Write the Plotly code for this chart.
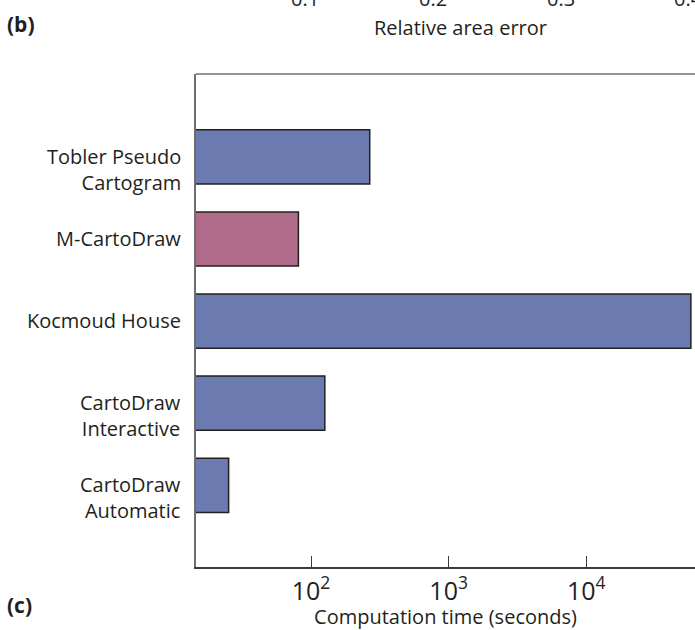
import plotly.graph_objects as go

# Computation time per cartogram method (seconds), top to bottom
methods = [
    "Tobler Pseudo<br>Cartogram",
    "M-CartoDraw",
    "Kocmoud House",
    "CartoDraw<br>Interactive",
    "CartoDraw<br>Automatic",
]
times = [267, 81, 57500, 126, 25.2]
bar_colors = ["#6b7baf", "#b06a8a", "#6b7baf", "#6b7baf", "#6b7baf"]

# Tail of the neighbouring panel's horizontal axis (relative area error)
rel_err_ticks = [0.1, 0.2, 0.3, 0.4]
rel_err_labels = ["0.1", "0.2", "0.3", "0.4"]

FONT = "Open Sans, DejaVu Sans, sans-serif"
TXT = "#231f20"
FS = 20
LINE_H = 1.3 * FS

W, H = 695, 630
ML, MR, MT, MB = 196, 0, 74, 63
PW, PH = W - ML - MR, H - MT - MB


def px_x(px):
    return (px - ML) / PW


def px_y(py):
    return (H - MB - py) / PH


fig = go.Figure()
fig.add_trace(go.Bar(
    x=times,
    y=methods,
    orientation="h",
    width=0.66,
    marker=dict(color=bar_colors, line=dict(color="#231f20", width=1.5)),
    showlegend=False,
))

annotations = []
# Method names: first line level with the bar centre, any second line hangs below
for m in methods:
    annotations.append(dict(x=px_x(183), xref="paper", xanchor="right", align="right",
                            y=m, yref="y", yanchor="top", yshift=LINE_H / 2 + 3,
                            text=m, showarrow=False, font=dict(size=FS, color=TXT)))
for v, lab in zip(rel_err_ticks, rel_err_labels):
    annotations.append(dict(x=v, xref="x2", y=px_y(-2), yref="paper", yanchor="middle",
                            text=lab, showarrow=False, font=dict(size=FS, color=TXT)))
annotations.append(dict(x=px_x(460), xref="paper", y=px_y(28), yref="paper", yanchor="middle",
                        text="Relative area error", showarrow=False,
                        font=dict(size=FS, color=TXT)))
annotations.append(dict(x=px_x(5), xref="paper", xanchor="left", y=px_y(24), yref="paper",
                        yanchor="middle", text="<b>(b)</b>", showarrow=False,
                        font=dict(size=21, color=TXT)))
annotations.append(dict(x=px_x(5), xref="paper", xanchor="left", y=px_y(605), yref="paper",
                        yanchor="middle", text="<b>(c)</b>", showarrow=False,
                        font=dict(size=21, color=TXT)))

fig.update_layout(
    width=W,
    height=H,
    margin=dict(l=ML, r=MR, t=MT, b=MB),
    paper_bgcolor="white",
    plot_bgcolor="white",
    font=dict(family=FONT, size=FS, color=TXT),
    xaxis=dict(
        type="log",
        range=[1.1645, 4.7896],
        dtick=1,
        exponentformat="power",
        showgrid=False,
        zeroline=False,
        showline=True,
        linecolor="#3a3a3a",
        linewidth=1.5,
        ticks="inside",
        ticklen=11,
        tickwidth=1.3,
        tickcolor="#3a3a3a",
        tickfont=dict(size=FS, color=TXT),
        ticklabelstandoff=2,
        title=dict(text="Computation time (seconds)", font=dict(size=FS, color=TXT), standoff=5),
    ),
    xaxis2=dict(
        overlaying="x",
        range=[0.0148, 0.4047],
        visible=False,
    ),
    yaxis=dict(
        type="category",
        categoryorder="array",
        categoryarray=methods,
        range=[4.995, -1.01],
        showgrid=False,
        zeroline=False,
        showline=True,
        linecolor="#6e6e6e",
        linewidth=2,
        ticks="",
        showticklabels=False,
    ),
    shapes=[
        dict(type="line", xref="paper", yref="paper", x0=0, x1=1, y0=1, y1=1,
             line=dict(color="#707070", width=1.5)),
    ],
    annotations=annotations,
)

fig.write_html("out.html")
